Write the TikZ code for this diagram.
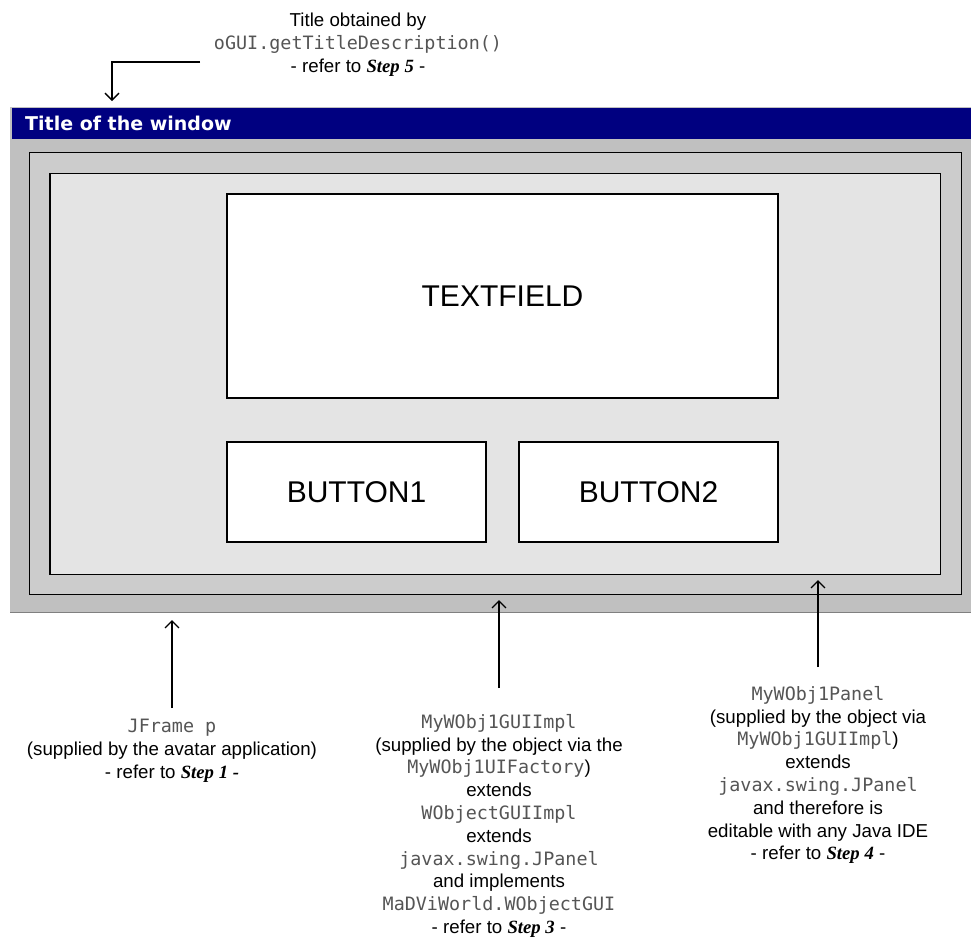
\documentclass[tikz,border=0pt]{standalone}
\usepackage{fontspec}
\setmainfont{Liberation Sans}
\newfontfamily\codefont{DejaVu Sans Mono}
\newfontfamily\titlefont{DejaVu Sans}
\newfontfamily\stepfont{Liberation Serif}
\usetikzlibrary{arrows.meta}
\definecolor{navy}{HTML}{000080}
\definecolor{wingray}{HTML}{C0C0C0}
\definecolor{midgray}{HTML}{CCCCCC}
\definecolor{lightgray2}{HTML}{E4E4E4}
\definecolor{codegray}{HTML}{555555}
\newcommand{\cd}[1]{{\codefont\color{codegray}\fontsize{18.4}{22.8}\selectfont #1}}
\newcommand{\stp}[1]{{\stepfont\bfseries\itshape #1}}
\begin{document}
\begin{tikzpicture}[x=1pt,y=-1pt,
  panel/.style={draw=black,line width=1.4pt},
  widget/.style={draw=black,fill=white,line width=1.2pt},
  big/.style={font=\fontsize{30}{33}\selectfont},
  note/.style={align=center,font=\fontsize{18.7}{22.8}\selectfont,inner sep=0pt},
  conn/.style={line width=1.3pt,-{Straight Barb[length=7pt,width=14pt,line width=1.3pt]}}]
\useasboundingbox (0,0) rectangle (971,938);
% window
\fill[wingray] (10,106.5) rectangle (971,613);
\draw[gray,line width=1.5pt] (10,612.5) -- (971,612.5);
\fill[navy] (12,108) rectangle (971,138.5);
\node[anchor=west,text=white,inner sep=0pt,font=\titlefont\bfseries\fontsize{19}{22}\selectfont] (title) at (25,123) {Title of the window};
\draw[panel,fill=midgray] (29.3,152.7) rectangle (961.7,594.7);
\draw[panel,fill=lightgray2] (50,173.7) rectangle (940.7,574.7);
\coordinate (frameB) at (499,600);
\coordinate (panelB) at (818,580);
\coordinate (winB) at (172,620);
\coordinate (winT) at (112,101);
% widgets
\draw[widget] (227,194) rectangle (778,398);
\node[big] (tf) at (502.5,296) {TEXTFIELD};
\draw[widget] (227,442) rectangle (486,542);
\node[big] (b1) at (356.5,492) {BUTTON1};
\draw[widget] (519,442) rectangle (778,542);
\node[big] (b2) at (648.5,492) {BUTTON2};
% notes
\node[note,anchor=north] (n5) at (358,13) {Title obtained by\\ \cd{oGUI.getTitleDescription()}\\ - refer to \stp{Step 5} -};
\node[note,anchor=north] (n1) at (172,719) {\cd{JFrame p}\\ (supplied by the avatar application)\\ - refer to \stp{Step 1 -}};
\node[note,anchor=north] (n3) at (499,714) {\cd{MyWObj1GUIImpl}\\ (supplied by the object via the\\ \cd{MyWObj1UIFactory})\\ extends\\ \cd{WObjectGUIImpl}\\ extends\\ \cd{javax.swing.JPanel}\\ and implements\\ \cd{MaDViWorld.WObjectGUI}\\ - refer to \stp{Step 3} -};
\node[note,anchor=north] (n4) at (818,686) {\cd{MyWObj1Panel}\\ (supplied by the object via\\ \cd{MyWObj1GUIImpl})\\ extends\\ \cd{javax.swing.JPanel}\\ and therefore is\\ editable with any Java IDE\\ - refer to \stp{Step 4} -};
% connectors
\coordinate (c5) at (200,62);
\draw[conn] (c5) -| (winT);
\draw[conn] ([yshift=11pt]n1.north) -- (winB);
\draw[conn] ([yshift=26pt]n3.north) -- (frameB);
\draw[conn] ([yshift=19pt]n4.north) -- (panelB);
\end{tikzpicture}
\end{document}
